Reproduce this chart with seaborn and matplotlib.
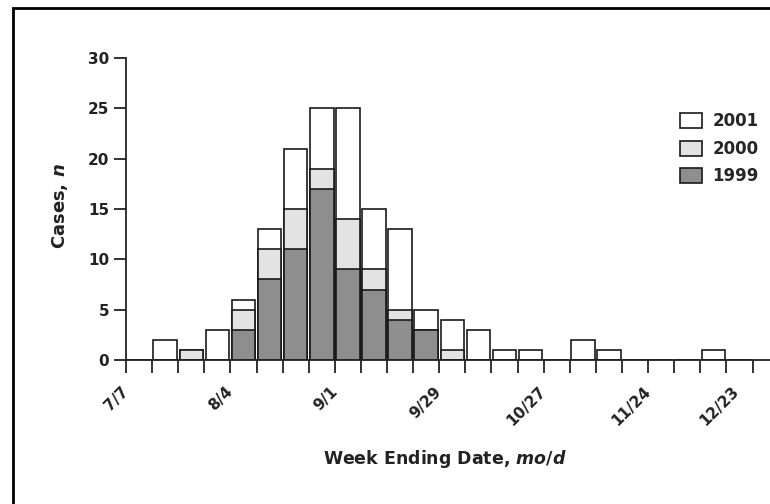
import numpy as np
import pandas as pd
import seaborn as sns
import matplotlib.pyplot as plt
from matplotlib.patches import Rectangle, Patch

# weekly case counts, week 0 = week ending 7/7
weeks = list(range(24))
cases_1999 = [0, 0, 0, 0, 3, 8, 11, 17, 9, 7, 4, 3, 0, 0, 0, 0, 0, 0, 0, 0, 0, 0, 0, 0]
cases_2000 = [0, 0, 1, 0, 2, 3, 4, 2, 5, 2, 1, 0, 1, 0, 0, 0, 0, 0, 0, 0, 0, 0, 0, 0]
cases_2001 = [0, 2, 0, 3, 1, 2, 6, 6, 11, 6, 8, 2, 3, 3, 1, 1, 0, 2, 1, 0, 0, 0, 1, 0]
tick_labels = ['7/7', '8/4', '9/1', '9/29', '10/27', '11/24', '12/23']
label_weeks = [0, 4, 8, 12, 16, 20, 23.4]
years = ['2001', '2000', '1999']
colors = ['white', '#e3e3e3', '#8e8e8e']

df = pd.DataFrame({'week': np.array(weeks) + 0.5,
                   'y1999': cases_1999, 'y2000': cases_2000, 'y2001': cases_2001})
df['to1999'] = df['y1999']
df['to2000'] = df['y1999'] + df['y2000']
df['to2001'] = df['to2000'] + df['y2001']

sns.set_style('ticks')
plt.rcParams['font.family'] = ['DejaVu Sans']
plt.rcParams['font.weight'] = 'bold'
plt.rcParams['mathtext.fontset'] = 'custom'
plt.rcParams['mathtext.rm'] = 'DejaVu Sans:bold'
plt.rcParams['mathtext.it'] = 'DejaVu Sans:italic:bold'

fig = plt.figure(figsize=(7.7, 5.04), dpi=100)
ax = fig.add_axes([126 / 770, 144 / 504, 644 / 770, 302 / 504])

# stacked bars: draw cumulative totals from the top layer down
for col, c in zip(['to2001', 'to2000', 'to1999'], colors):
    sns.barplot(data=df, x='week', y=col, native_scale=True, color=c, saturation=1,
                edgecolor='#1a1a1a', linewidth=1.2, width=0.9, errorbar=None, ax=ax)

ax.set_xlim(0, 24.67)
ax.set_ylim(0, 30)
ax.set_yticks(range(0, 31, 5))
# weekly tick marks as minor ticks, date labels as major ticks without marks
ax.xaxis.remove_overlapping_locs = False
ax.set_xticks(range(25), minor=True)
ax.set_xticks(label_weeks)
ax.set_xticklabels(tick_labels)
plt.setp(ax.get_xticklabels(), rotation=45, ha='right', va='center', rotation_mode='anchor')
ax.tick_params(axis='both', which='both', length=9, width=1.3, color='#222222',
               labelsize=11, labelcolor='#222222')
ax.tick_params(axis='x', which='major', length=0, pad=21)
ax.tick_params(axis='y', pad=3)

sns.despine(ax=ax)
ax.spines['left'].set_linewidth(1.3)
ax.spines['bottom'].set_linewidth(1.3)
ax.spines['left'].set_color('#222222')
ax.spines['bottom'].set_color('#222222')

ax.set_xlabel('Week Ending Date, $\\mathit{mo/d}$', fontsize=12.5, fontweight='bold', color='#222222')
ax.set_ylabel('Cases, $\\mathit{n}$', fontsize=13, fontweight='bold', color='#222222')
ax.xaxis.set_label_coords(0.495, -0.29)
ax.yaxis.set_label_coords(-0.087, 0.51)

handles = [Patch(facecolor=c, edgecolor='#1a1a1a', linewidth=1.2) for c in colors]
ax.legend(handles, years, loc='upper left', bbox_to_anchor=(0.850, 0.842), frameon=False,
          fontsize=12, handlelength=1.3, handleheight=1.0, labelspacing=0.57,
          handletextpad=0.65, borderaxespad=0)

# frame around the figure (left and top edges visible)
fig.add_artist(Rectangle((13 / 770, -0.5), 2, 1.5 - 8 / 504, transform=fig.transFigure,
                         fill=False, lw=2, ec='black'))

fig.savefig('out.png', dpi=100)
